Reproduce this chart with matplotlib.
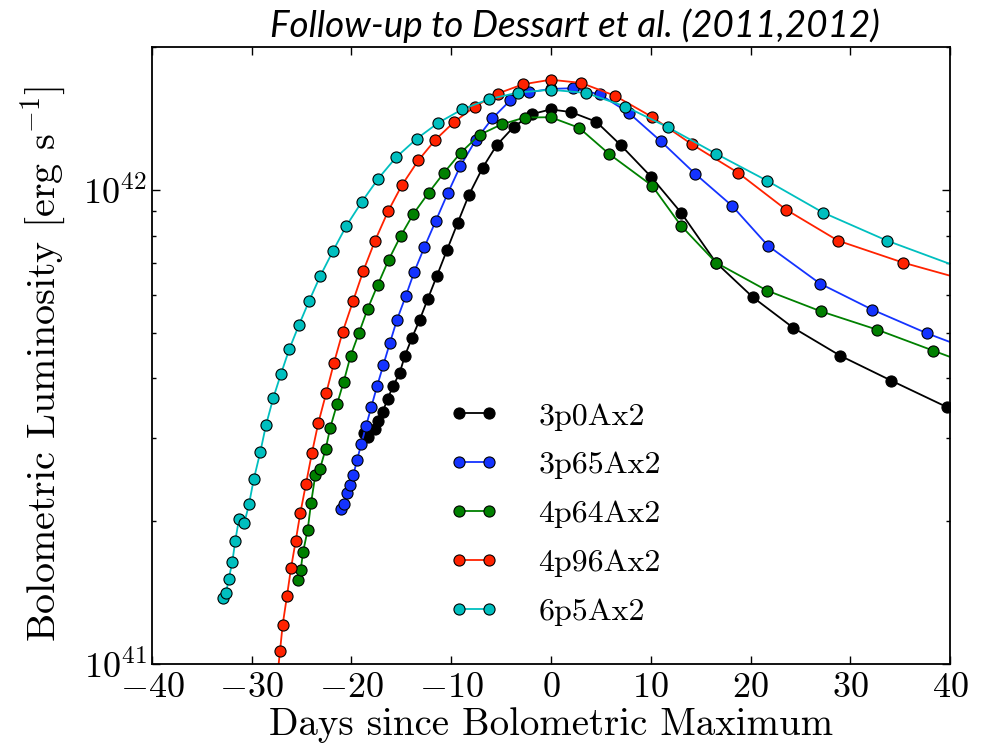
#!/usr/bin/env python3
import numpy as np
from matplotlib import pyplot as plt

# light curves, L in units of 1e41 erg/s
days_3p0 = [-18.72, -18.32, -17.64, -17.31, -16.87, -16.39, -15.84, -15.17, -14.64, -13.96,
            -13.16, -12.36, -11.43, -10.43, -9.35, -8.22, -6.85, -5.44, -3.74, -1.90,
            -0.03, 2.01, 4.54, 6.99, 10.03, 13.03, 16.54, 20.25, 24.26, 28.97, 34.09, 39.70]
lum_3p0 = [3.07, 3.01, 3.13, 3.25, 3.40, 3.62, 3.85, 4.11, 4.47, 4.86,
           5.32, 5.88, 6.59, 7.46, 8.52, 9.76, 11.13, 12.42, 13.57, 14.44,
           14.77, 14.58, 13.91, 12.42, 10.65, 8.95, 7.02, 5.93, 5.12, 4.47, 3.96, 3.48]

days_3p65 = [-21.08, -20.78, -20.48, -20.18, -19.82, -19.45, -19.02, -18.55, -18.02, -17.44,
             -16.81, -16.14, -15.44, -14.57, -13.70, -12.70, -11.56, -10.36, -9.09, -7.55,
             -5.88, -4.09, -2.21, 0.0, 2.24, 4.91, 7.79, 11.00, 14.44, 18.15, 21.75, 26.97,
             32.18, 37.69, 43.0]
lum_3p65 = [2.12, 2.17, 2.29, 2.38, 2.50, 2.69, 2.91, 3.17, 3.48, 3.85,
            4.27, 4.76, 5.32, 5.96, 6.72, 7.56, 8.59, 9.82, 11.22, 12.72,
            14.14, 15.43, 16.05, 16.32, 16.37, 15.88, 14.53, 12.66, 10.81, 9.25, 7.62, 6.34,
            5.59, 4.98, 4.52]

days_4p64 = [-25.33, -25.09, -24.86, -24.39, -24.06, -23.63, -23.16, -22.59, -22.13, -21.45,
             -20.78, -20.08, -19.25, -18.38, -17.37, -16.27, -15.07, -13.80, -12.26, -10.76,
             -9.05, -7.15, -4.94, -2.63, -0.03, 2.81, 5.84, 10.13, 13.03, 16.54, 21.65, 27.07,
             32.68, 38.30, 43.9]
lum_4p64 = [1.50, 1.58, 1.72, 1.92, 2.18, 2.50, 2.58, 2.84, 3.15, 3.53,
            3.94, 4.47, 4.99, 5.61, 6.30, 7.12, 7.99, 8.89, 9.86, 10.84,
            11.97, 13.06, 13.74, 14.20, 14.22, 13.51, 11.89, 10.20, 8.40, 7.02, 6.13, 5.54,
            5.07, 4.58, 4.14]

days_4p96 = [-27.45, -27.17, -26.90, -26.47, -26.07, -25.59, -25.13, -24.56, -23.96, -23.33,
             -22.53, -21.75, -20.88, -19.85, -18.82, -17.64, -16.34, -14.94, -13.30, -11.60,
             -9.69, -7.62, -5.34, -2.83, -0.03, 3.01, 6.39, 10.10, 14.14, 18.75, 23.56, 28.77,
             35.29, 41.8]
lum_4p96 = [0.935, 1.063, 1.21, 1.39, 1.59, 1.82, 2.08, 2.40, 2.79, 3.22,
            3.73, 4.32, 5.02, 5.82, 6.74, 7.81, 9.00, 10.23, 11.53, 12.74,
            13.91, 14.98, 15.95, 16.68, 17.06, 16.80, 15.79, 14.25, 12.46, 10.86, 9.08, 7.81,
            7.02, 6.43]

days_6p5 = [-32.85, -32.58, -32.31, -31.95, -31.65, -31.28, -30.75, -30.28, -29.80, -29.14,
            -28.57, -27.84, -27.07, -26.24, -25.26, -24.23, -23.13, -21.85, -20.52, -18.95,
            -17.31, -15.54, -13.46, -11.30, -8.92, -6.22, -3.31, -0.03, 3.51, 7.45, 11.70,
            16.54, 21.65, 27.27, 33.68, 41.0]
lum_6p5 = [1.38, 1.41, 1.51, 1.64, 1.82, 2.02, 1.98, 2.17, 2.45, 2.80,
           3.19, 3.64, 4.09, 4.61, 5.19, 5.84, 6.58, 7.43, 8.39, 9.44,
           10.56, 11.70, 12.81, 13.84, 14.77, 15.52, 16.03, 16.25, 16.00, 14.98, 13.55,
           11.91, 10.45, 8.95, 7.81, 6.85]

models = ['3p0Ax2', '3p65Ax2', '4p64Ax2', '4p96Ax2', '6p5Ax2']
colors = ['k', '#1433ff', '#008000', '#ff2200', '#00bfbf']

plt.rcParams['font.family'] = 'serif'
plt.rcParams['font.serif'] = ['cmr10']
plt.rcParams['mathtext.fontset'] = 'cm'
plt.rcParams['axes.formatter.use_mathtext'] = True
plt.rcParams['axes.unicode_minus'] = True

fig = plt.figure(figsize=(9.85, 7.48), dpi=100)
ax = fig.add_axes([0.1543, 0.1123, 0.8102, 0.8249])

series = [(days_3p0, lum_3p0), (days_3p65, lum_3p65), (days_4p64, lum_4p64),
          (days_4p96, lum_4p96), (days_6p5, lum_6p5)]
for (d, l), name, c in zip(series, models, colors):
    ax.plot(d, np.asarray(l) * 1e41, '-o', color=c, mfc=c, mec='k', mew=0.8,
            ms=8, lw=1.3, label=name)

ax.set_yscale('log')
ax.set_xlim(-40, 40)
ax.set_ylim(1e41, 2e42)
ax.set_xticks(np.arange(-40, 41, 10))
ax.tick_params(which='both', direction='in', top=True, right=True, labelsize=26)
ax.tick_params(which='major', length=6, width=1)
ax.tick_params(which='minor', length=3, width=1)
ax.tick_params(axis='x', pad=6)
for s in ax.spines.values():
    s.set_linewidth(1.3)

ax.set_xlabel('Days since Bolometric Maximum', fontsize=28, labelpad=2)
ax.set_ylabel('Bolometric Luminosity [erg s$^{-1}$]', fontsize=28.8)
ax.yaxis.set_label_coords(-0.105, 0.487)

leg = ax.legend(loc='center', bbox_to_anchor=(0.505, 0.243), frameon=False,
                numpoints=2, fontsize=23, handlelength=1.55, handletextpad=1.25,
                labelspacing=0.64)

fig.text(0.584, 0.966, 'Follow-up to Dessart et al. (2011,2012)', family='Lato',
         style='italic', fontsize=26.5, ha='center', va='center')

fig.savefig('out.png', dpi=100)
